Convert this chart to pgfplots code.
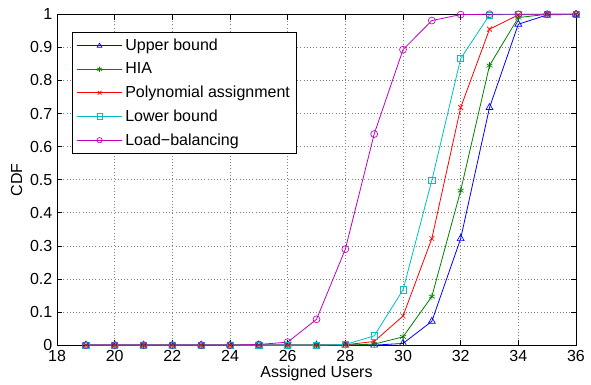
\documentclass[border=0pt]{standalone}
\usepackage{pgfplots}
\pgfplotsset{compat=1.18}
\usepackage{fontspec}
\setmainfont{Liberation Sans}
\definecolor{mblue}{rgb}{0,0,1}
\definecolor{mgreen}{rgb}{0,0.5,0}
\definecolor{mred}{rgb}{1,0,0}
\definecolor{mcyan}{rgb}{0,0.75,0.75}
\definecolor{mmag}{rgb}{0.75,0,0.75}
\newcommand{\ff}{\fontsize{12}{14.4}\selectfont}
\begin{document}
\begin{tikzpicture}
\begin{axis}[
  at={(0,0)}, anchor=south west,
  scale only axis, width=389pt, height=248pt,
  xmin=18, xmax=36, ymin=0, ymax=1,
  xtick={18,20,...,36},
  ytick={0,0.1,...,1.0},
  yticklabels={0,0.1,0.2,0.3,0.4,0.5,0.6,0.7,0.8,0.9,1},
  /pgf/number format/assume math mode=true,
  tick label style={font=\ff},
  label style={font=\ff},
  xlabel={Assigned Users},
  ylabel={CDF},
  xlabel style={yshift=3pt},
  ylabel style={yshift=-1pt},
  tick align=inside,
  major tick length=4pt,
  tick style={black, line width=0.5pt},
  axis line style={black, line width=0.6pt},
  xmajorgrids, ymajorgrids,
  major grid style={black!50, dotted, line width=0.5pt},
  clip=false,
  every axis plot/.append style={line width=0.6pt, mark size=2.6pt, mark options={solid, line width=0.5pt}},
  legend cell align=left,
  legend style={font=\ff, at={(0.029,0.9465)}, anchor=north west, draw=black, line width=0.6pt,
    row sep=3.6pt, inner xsep=3pt, inner ysep=3pt},
  legend image code/.code={\draw[mark repeat=2,mark phase=2,#1,mark size=2pt] plot coordinates {(0pt,0pt)(17pt,0pt)(34pt,0pt)};},
]
\addplot[mblue, mark=triangle, mark size=3pt] coordinates {
(19,0)(20,0)(21,0)(22,0)(23,0)(24,0)(25,0)(26,0)(27,0)(28,0)(29,0)
(30,0.005)(31,0.072)(32,0.322)(33,0.718)(34,0.97)(35,0.998)(36,1)};
\addlegendentry{Upper bound}
\addplot[mgreen, mark=asterisk] coordinates {
(19,0)(20,0)(21,0)(22,0)(23,0)(24,0)(25,0)(26,0)(27,0)(28,0)(29,0.003)
(30,0.025)(31,0.147)(32,0.467)(33,0.845)(34,0.99)(35,1)(36,1)};
\addlegendentry{HIA}
\addplot[mred, mark=x] coordinates {
(19,0)(20,0)(21,0)(22,0)(23,0)(24,0)(25,0)(26,0)(27,0)(28,0.001)(29,0.011)
(30,0.088)(31,0.322)(32,0.718)(33,0.955)(34,0.998)(35,1)(36,1)};
\addlegendentry{Polynomial assignment}
\addplot[mcyan, mark=square, mark size=2.3pt] coordinates {
(19,0)(20,0)(21,0)(22,0)(23,0)(24,0)(25,0)(26,0)(27,0)(28,0.002)(29,0.028)
(30,0.167)(31,0.498)(32,0.866)(33,0.998)(34,1)(35,1)(36,1)};
\addlegendentry{Lower bound}
\addplot[mmag, mark=o] coordinates {
(19,0)(20,0)(21,0)(22,0)(23,0)(24,0)(25,0.002)(26,0.009)(27,0.078)(28,0.29)(29,0.638)
(30,0.893)(31,0.981)(32,0.999)(33,1)(34,1)(35,1)(36,1)};
\addlegendentry{Load\textminus balancing}
\end{axis}
\pgfresetboundingbox
\path[use as bounding box] (-42.75pt,-29.6pt) rectangle (400.25pt,258.7pt);
\end{tikzpicture}
\end{document}
